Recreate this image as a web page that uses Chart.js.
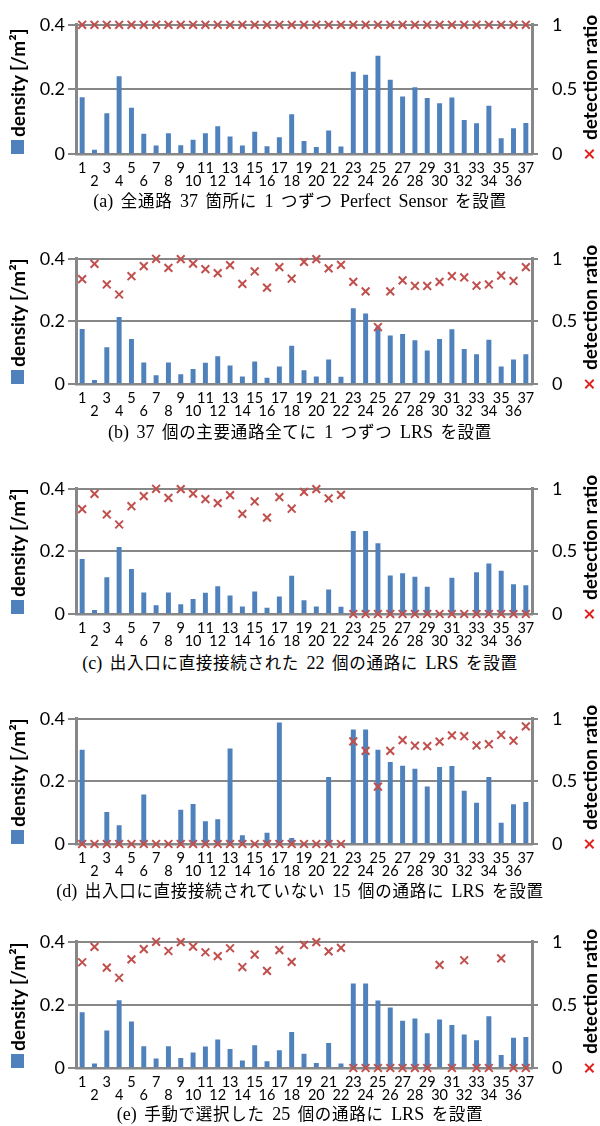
<!DOCTYPE html>
<html lang="ja">
<head>
  <meta charset="UTF-8">
  <title>density / detection ratio</title>
  <script src="https://cdn.jsdelivr.net/npm/chart.js"></script>
  <style>
    body {
      margin: 0;
      background: #ffffff;
      width: 600px;
      height: 1126px;
      position: relative;
      overflow: hidden;
    }
    .panel {
      position: absolute;
      left: 0;
      width: 600px;
    }
    .ytitle {
      position: absolute;
      writing-mode: vertical-rl;
      transform: rotate(180deg);
      font-family: Lato, "Liberation Sans", sans-serif;
      font-weight: bold;
      font-size: 19px;
      color: #000;
      white-space: nowrap;
      line-height: 20px;
      width: 20px;
    }
    .ytitle .sq {
      display: inline-block;
      width: 13px;
      height: 14px;
      background: #4f81bd;
      margin-bottom: 3px;
    }
    .ytitle .cross {
      color: #e0201b;
      font-size: 21px;
      margin-bottom: 3px;
    }
    .caption {
      position: absolute;
      left: 0;
      width: 600px;
      text-align: center;
      font-family: "Liberation Serif", "Noto Sans CJK JP", serif;
      font-size: 18px;
      line-height: 20px;
      word-spacing: 3px;
      color: #000;
      white-space: nowrap;
    }
    .caption .jp {
      font-family: "Noto Sans CJK JP", sans-serif;
      font-size: 16.5px;
      letter-spacing: 0.7px;
    }
  </style>
</head>
<body>

<script>
  // path numbers on the x axis
  const paths = ['1','2','3','4','5','6','7','8','9','10','11','12','13','14','15','16','17','18','19',
                 '20','21','22','23','24','25','26','27','28','29','30','31','32','33','34','35','36','37'];

  const densityTicks = [0, 0.2, 0.4];
  const ratioTicks = [0, 0.5, 1];

  // (a) perfect sensor on all 37 paths
  const densityA = [0.175,0.012,0.125,0.240,0.142,0.062,0.025,0.063,0.026,0.043,0.063,0.085,0.053,0.025,0.068,0.023,0.051,0.122,0.039,
                    0.021,0.072,0.022,0.254,0.244,0.303,0.229,0.177,0.206,0.172,0.156,0.174,0.104,0.094,0.148,0.048,0.079,0.095];
  const ratioA = [1,1,1,1,1,1,1,1,1,1,1,1,1,1,1,1,1,1,1,1,1,1,1,1,1,1,1,1,1,1,1,1,1,1,1,1,1];

  // (b) LRS on all 37 main paths
  const densityB = [0.175,0.012,0.116,0.213,0.143,0.068,0.027,0.068,0.030,0.047,0.067,0.088,0.058,0.023,0.071,0.019,0.055,0.121,0.043,
                    0.023,0.077,0.022,0.241,0.224,0.182,0.154,0.159,0.139,0.106,0.143,0.174,0.111,0.094,0.140,0.055,0.077,0.094];
  const ratioB = [0.838,0.960,0.795,0.715,0.861,0.942,1.000,0.927,0.997,0.962,0.917,0.886,0.949,0.800,0.899,0.770,0.934,0.841,0.975,
                  0.997,0.924,0.952,0.816,0.740,0.455,0.740,0.828,0.783,0.783,0.816,0.861,0.851,0.785,0.795,0.866,0.823,0.934];

  // (c) LRS on 22 paths connected to entrances
  const densityC = [0.175,0.012,0.116,0.213,0.143,0.068,0.027,0.068,0.030,0.047,0.067,0.088,0.058,0.023,0.071,0.019,0.055,0.121,0.043,
                    0.023,0.077,0.022,0.264,0.264,0.225,0.122,0.129,0.118,0.086,0,0.115,0,0.132,0.160,0.137,0.094,0.091];
  const ratioC = [0.838,0.960,0.795,0.715,0.861,0.942,1.000,0.927,0.997,0.962,0.917,0.886,0.949,0.800,0.899,0.770,0.934,0.841,0.975,
                  0.997,0.924,0.952,0,0,0,0,0,0,0,0,0,0,0,0,0,0,0];

  // (d) LRS on 15 paths not connected to entrances
  const densityD = [0.300,0,0.101,0.059,0,0.157,0,0,0.108,0.127,0.072,0.078,0.304,0.027,0,0.035,0.387,0.018,0,
                    0,0.213,0,0.365,0.365,0.300,0.261,0.249,0.239,0.183,0.245,0.248,0.169,0.131,0.213,0.067,0.126,0.133];
  const ratioD = [0,0,0,0,0,0,0,0,0,0,0,0,0,0,0,0,0,0,0,0,0,0,
                  0.820,0.744,0.458,0.744,0.830,0.785,0.782,0.818,0.868,0.861,0.787,0.797,0.871,0.825,0.939];

  // (e) LRS on 25 hand-picked paths
  const densityE = [0.176,0.013,0.118,0.214,0.146,0.068,0.029,0.068,0.031,0.048,0.067,0.089,0.059,0.023,0.071,0.020,0.055,0.113,0.044,
                    0.015,0.078,0.013,0.267,0.267,0.213,0.191,0.149,0.156,0.109,0.153,0.135,0.105,0.087,0.163,0.040,0.095,0.097];
  const ratioE = [0.838,0.960,0.795,0.715,0.861,0.942,1.000,0.927,0.997,0.962,0.917,0.886,0.949,0.800,0.899,0.770,0.934,0.841,0.975,
                  0.997,0.924,0.952,0,0,0,0,0,0,0,0.817,0,0.854,0,0,0.869,0,0];

  const captions = [
    '(a) 全通路 37 箇所に 1 つずつ Perfect Sensor を設置',
    '(b) 37 個の主要通路全てに 1 つずつ LRS を設置',
    '(c) 出入口に直接接続された 22 個の通路に LRS を設置',
    '(d) 出入口に直接接続されていない 15 個の通路に LRS を設置',
    '(e) 手動で選択した 25 個の通路に LRS を設置'
  ];

  // layout: where each plot area sits on the page
  const panels = [
    { density: densityA, ratio: ratioA, top: 18.3, h: 136, cap: 200 },
    { density: densityB, ratio: ratioB, top: 252.3, h: 132, cap: 431 },
    { density: densityC, ratio: ratioC, top: 482.3, h: 132, cap: 662 },
    { density: densityD, ratio: ratioD, top: 712, h: 132, cap: 890 },
    { density: densityE, ratio: ratioE, top: 935, h: 133, cap: 1113 }
  ];

  const gridGray = '#878787';
  const barBlue = '#4f81bd';
  const crossRed = '#c0504d';
  const PAD_TOP = 18;
  const X_AXIS_H = 36;

  // captions: latin in serif, japanese in gothic
  function captionHtml(text) {
    return text.replace(/([^\x00-\x7f]+)/g, '<span class="jp">$1</span>');
  }

  panels.forEach((p, idx) => {
    const canvasH = PAD_TOP + p.h + X_AXIS_H;
    const div = document.createElement('div');
    div.className = 'panel';
    div.style.top = (p.top - PAD_TOP) + 'px';
    div.style.height = canvasH + 'px';
    const cv = document.createElement('canvas');
    cv.width = 600;
    cv.height = canvasH;
    div.appendChild(cv);
    document.body.appendChild(div);

    const bottom = p.top + p.h;

    const lt = document.createElement('div');
    lt.className = 'ytitle';
    lt.style.left = '8px';
    lt.style.top = (bottom - 138) + 'px';
    lt.style.height = '138px';
    lt.innerHTML = '<span class="sq"></span>density [/m²]';
    document.body.appendChild(lt);

    const rt = document.createElement('div');
    rt.className = 'ytitle';
    rt.style.left = '580px';
    rt.style.top = (bottom - 135) + 'px';
    rt.style.height = '149px';
    rt.innerHTML = '<span class="cross">×</span>detection ratio';
    document.body.appendChild(rt);

    const cap = document.createElement('div');
    cap.className = 'caption';
    cap.style.top = (p.cap - 10) + 'px';
    cap.innerHTML = captionHtml(captions[idx]);
    document.body.appendChild(cap);

    new Chart(cv.getContext('2d'), {
      type: 'bar',
      data: {
        labels: paths,
        datasets: [
          {
            type: 'line',
            label: 'detection ratio',
            data: p.ratio,
            yAxisID: 'y2',
            showLine: false,
            pointStyle: 'crossRot',
            pointRadius: 5.5,
            pointBorderWidth: 2,
            borderColor: crossRed,
            backgroundColor: crossRed,
            clip: false,
            order: 0
          },
          {
            label: 'density',
            data: p.density,
            yAxisID: 'y',
            backgroundColor: barBlue,
            barThickness: 4.3,
            order: 1
          }
        ]
      },
      options: {
        responsive: false,
        animation: false,
        events: [],
        layout: { padding: { top: PAD_TOP, left: 0, right: 0, bottom: 0 } },
        plugins: { legend: { display: false }, tooltip: { enabled: false } },
        scales: {
          x: {
            grid: { display: false, drawTicks: false },
            border: { color: gridGray, width: 2.5 },
            afterFit: s => { s.height = X_AXIS_H; },
            ticks: {
              autoSkip: false,
              maxRotation: 0,
              minRotation: 0,
              padding: 7,
              color: '#000',
              font: { family: 'Lato', size: 14.5, lineHeight: 0.95 },
              callback: (v, i) => (i % 2 === 0 ? [paths[i]] : ['', paths[i]])
            }
          },
          y: {
            position: 'left',
            min: 0,
            max: 0.4,
            afterFit: s => { s.width = 76; },
            afterBuildTicks: s => { s.ticks = densityTicks.map(v => ({ value: v })); },
            grid: { color: gridGray, lineWidth: 2, tickLength: 8 },
            border: { color: gridGray, width: 3 },
            ticks: {
              padding: 3,
              color: '#000',
              font: { family: 'Lato', size: 18 },
              callback: v => String(v)
            }
          },
          y2: {
            position: 'right',
            min: 0,
            max: 1,
            afterFit: s => { s.width = 68; },
            afterBuildTicks: s => { s.ticks = ratioTicks.map(v => ({ value: v })); },
            grid: { drawOnChartArea: false, color: gridGray, lineWidth: 2, tickLength: 6 },
            border: { color: gridGray, width: 3 },
            ticks: {
              padding: 14,
              color: '#000',
              font: { family: 'Lato', size: 18 },
              callback: v => String(v)
            }
          }
        }
      }
    });
  });
</script>

</body>
</html>
